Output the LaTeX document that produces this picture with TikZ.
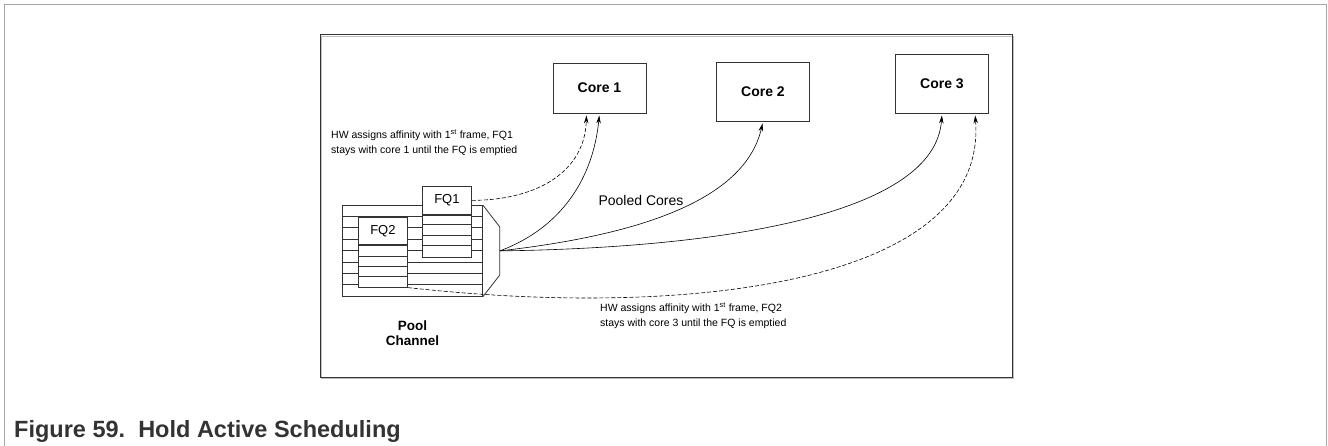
\documentclass[tikz,border=0pt]{standalone}
\usepackage{fontspec}
\setmainfont{Liberation Sans}
\usetikzlibrary{arrows.meta, positioning}

\begin{document}
\begin{tikzpicture}[x=1pt, y=-1pt,
    core/.style={draw=black!80, line width=0.9pt, fill=white, inner sep=0pt,
      minimum width=93pt, font=\bfseries\fontsize{14}{16}\selectfont},
    fqhead/.style={draw=black!80, line width=0.8pt, fill=white, inner sep=0pt,
      minimum width=49pt, font=\fontsize{13}{15}\selectfont},
    slots/.style={draw=black!80, line width=0.8pt, fill=white, inner sep=0pt,
      minimum width=49pt, minimum height=42pt},
    link/.style={-{Stealth[length=8pt, width=4.5pt]}, line width=0.6pt, shorten >=2pt},
    note/.style={inner sep=0pt, align=left, font=\fontsize{10.5}{14.5}\selectfont}]
  \useasboundingbox (0,0) rectangle (1328,446);

  % page frame and figure box
  \draw[gray!70, line width=1.5pt] (4.5,446) -- (4.5,4.5) -- (1326.5,4.5) -- (1326.5,446);
  \draw[black!25, line width=1.2pt] (321.5,36.5) rectangle (1013.5,378.5);
  \draw[black!80, line width=1pt] (320,35) rectangle (1012,377);

  % cores
  \node[core, minimum height=50pt] (core1) at (599.5,88) {Core 1};
  \node[core, minimum height=59pt] (core2) at (763,91.5) {Core 2};
  \node[core, minimum height=59pt] (core3) at (942,83.5) {Core 3};

  % pool channel
  \node[draw=black!80, line width=0.8pt, inner sep=0pt, minimum width=140pt,
    minimum height=91pt, anchor=north west] (chan) at (342,205) {};
  \foreach \k in {1,...,7}
    \draw[black!80, line width=0.7pt] (chan.north west) ++(0,11.375*\k) -- ++(140,0);
  \draw[black!80, line width=0.8pt] (chan.north east) -- ++(17,22) -- ++(0,48) -- (chan.south east);
  \coordinate[right=17pt of chan.east] (mouth);

  % frame queues
  \node[fqhead, minimum height=28pt, anchor=north west] (fq1) at (422,186) {FQ1};
  \node[slots, below=0pt of fq1] (fq1slots) {};
  \foreach \d in {10,21,31}
    \draw[black!80, line width=0.8pt] (fq1slots.north west) ++(0,\d) -- ++(49,0);
  \node[fqhead, minimum height=27pt, anchor=north west] (fq2) at (358,217) {FQ2};
  \node[slots, below=0pt of fq2] (fq2slots) {};
  \foreach \d in {12,22,32}
    \draw[black!80, line width=0.8pt] (fq2slots.north west) ++(0,\d) -- ++(49,0);

  \node[below=24pt of chan, inner sep=0pt, align=center,
    font=\bfseries\fontsize{13.5}{15}\selectfont] (pool) {Pool\\Channel};

  % scheduling paths
  \draw[link] (mouth) .. controls (561,228) and (593,179) .. (core1.south);
  \draw[link] (mouth) .. controls (640,235) and (745,200) .. (core2.south);
  \draw[link] (mouth) .. controls (720,248) and (935,215) .. (core3.south);
  \draw[link, dash pattern=on 4pt off 2pt] (fq1.east) .. controls (540,200) and (585,170) .. ([xshift=-13pt]core1.south);
  \draw[link, dash pattern=on 4pt off 2pt] (fq2slots.south east) .. controls (700,320) and (988,280) .. ([xshift=33pt]core3.south);

  \node[font=\fontsize{14}{16}\selectfont] (pooled) at (641,200) {Pooled Cores};
  \node[note, anchor=north west] (note1) at (331,130)
    {HW assigns affinity with 1\textsuperscript{st} frame, FQ1\\stays with core 1 until the FQ is emptied};
  \node[note, anchor=north west] (note2) at (600,303)
    {HW assigns affinity with 1\textsuperscript{st} frame, FQ2\\stays with core 3 until the FQ is emptied};

  \node[anchor=base west, inner sep=0pt, text=black!80,
    font=\bfseries\fontsize{23.5}{26}\selectfont] (caption) at (14,437)
    {Figure 59.\ \ Hold Active Scheduling};
\end{tikzpicture}
\end{document}
